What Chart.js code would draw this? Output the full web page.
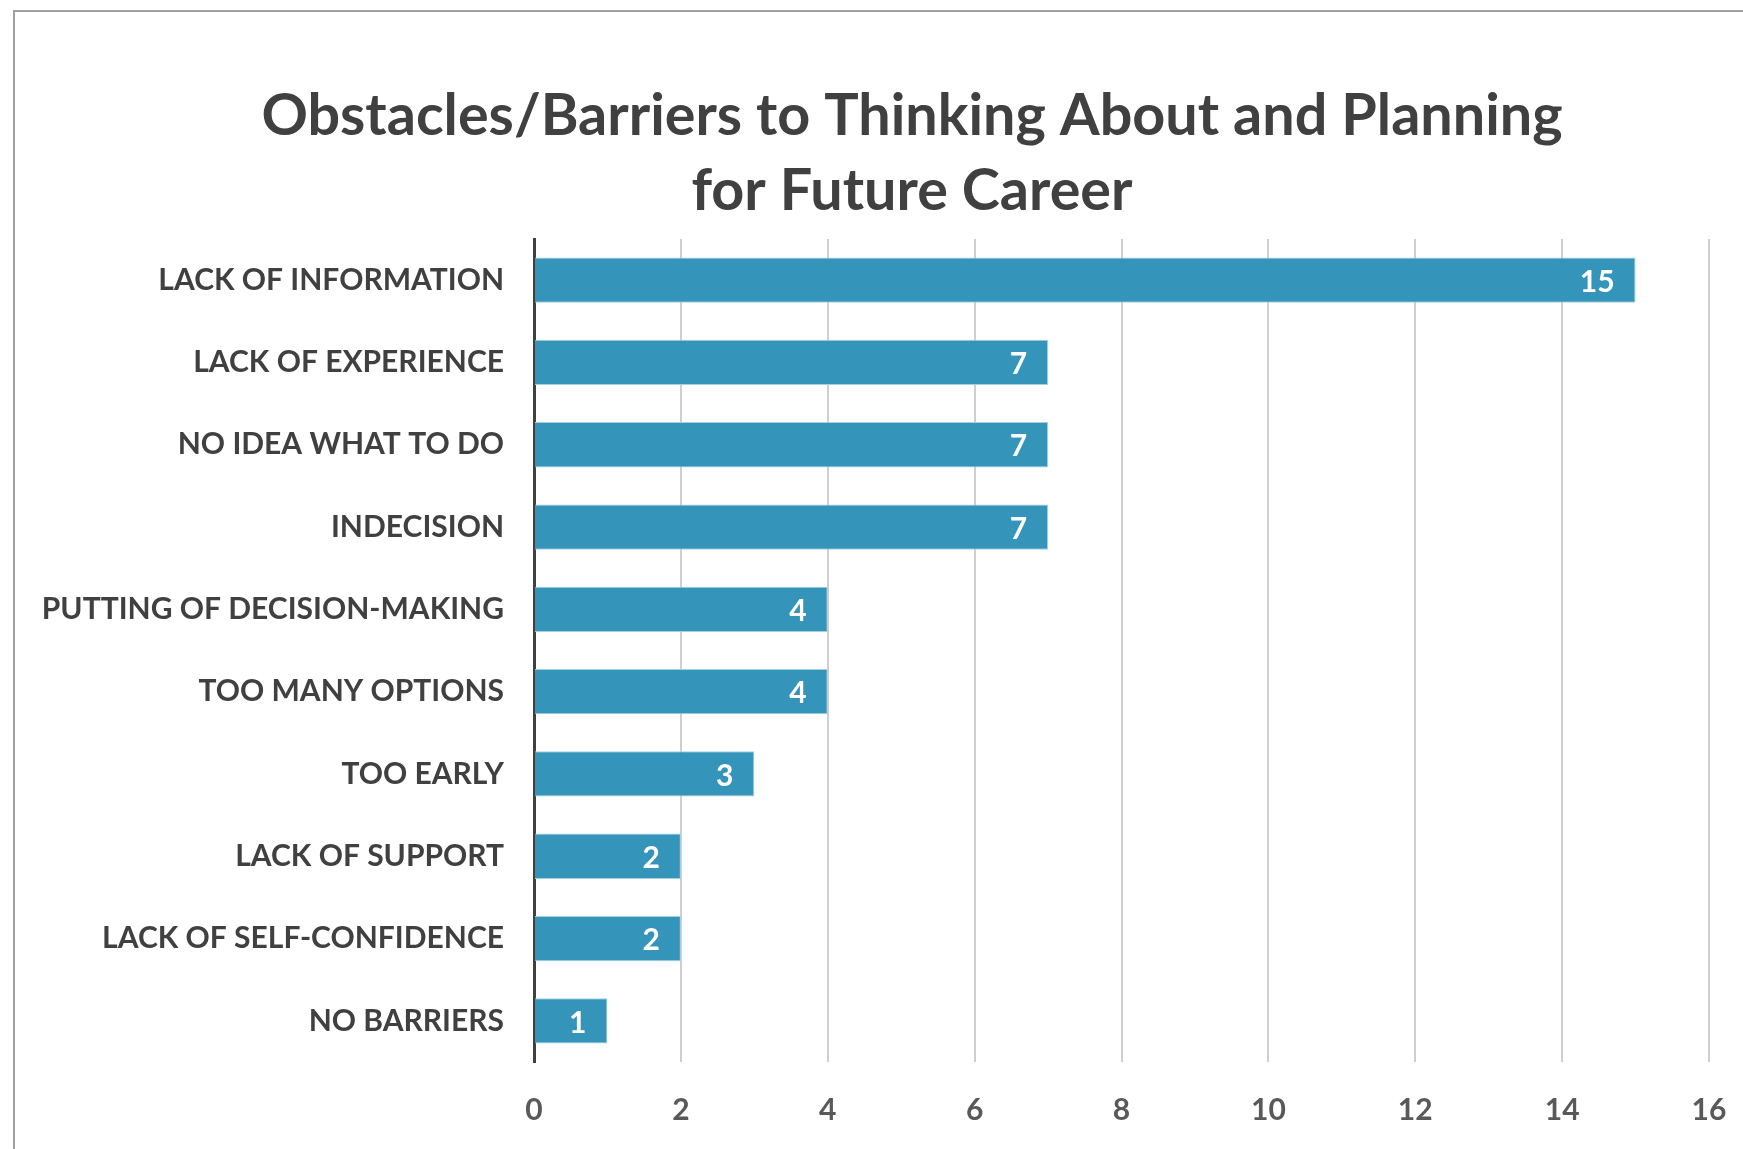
<!DOCTYPE html>
<html>
<head>
<meta charset="utf-8">
<script src="https://cdn.jsdelivr.net/npm/chart.js@4.4.1/dist/chart.umd.min.js"></script>
<style>
    body { margin: 0; background: #fff; overflow: hidden; }
    #wrap { position: relative; width: 1743px; height: 1149px; }
    #frame {
        position: absolute; left: 13px; top: 10px; width: 2000px; height: 2000px;
        border-left: 2px solid #a0a0a0; border-top: 2px solid #a0a0a0;
        pointer-events: none;
    }
</style>
</head>
<body>
<div id="wrap">
    <canvas id="myChart" width="1743" height="1149"></canvas>
    <div id="frame"></div>
</div>
<script>
var titleLines = [
    'Obstacles/Barriers to Thinking About and Planning',
    'for Future Career'
];

var labels = [
    'LACK OF INFORMATION',
    'LACK OF EXPERIENCE',
    'NO IDEA WHAT TO DO',
    'INDECISION',
    'PUTTING OF DECISION-MAKING',
    'TOO MANY OPTIONS',
    'TOO EARLY',
    'LACK OF SUPPORT',
    'LACK OF SELF-CONFIDENCE',
    'NO BARRIERS'
];

var counts = [15, 7, 7, 7, 4, 4, 3, 2, 2, 1];

var xMin = 0;
var xMax = 16;
var xStep = 2;

var fontName = 'Lato, "Open Sans", sans-serif';

// title drawn by hand so it can sit off-centre like the original
var titlePlugin = {
    id: 'titleText',
    afterDraw: function (chart) {
        var c = chart.ctx;
        c.save();
        c.fillStyle = '#404040';
        c.font = 'bold 57.5px ' + fontName;
        c.textAlign = 'center';
        c.textBaseline = 'middle';
        for (var i = 0; i < titleLines.length; i++) {
            c.fillText(titleLines[i], 912, 116 + i * 75);
        }
        c.restore();
    }
};

// white value labels inside the bar end
var valuePlugin = {
    id: 'valueText',
    afterDatasetsDraw: function (chart) {
        var c = chart.ctx;
        var meta = chart.getDatasetMeta(0);
        c.save();
        c.fillStyle = '#ffffff';
        c.font = 'bold 30px ' + fontName;
        c.textAlign = 'right';
        c.textBaseline = 'middle';
        meta.data.forEach(function (bar, i) {
            c.fillText(String(counts[i]), bar.x - 21, bar.y + 2);
        });
        c.restore();
    }
};

var ctx = document.getElementById('myChart');

var data = {
    labels: labels,
    datasets: [{
        data: counts,
        backgroundColor: '#3494ba',
        borderColor: '#a3cfe0',
        borderWidth: 1,
        borderSkipped: 'start',
        barPercentage: 0.55,
        categoryPercentage: 1
    }]
};

var config = {
    type: 'bar',
    data: data,
    options: {
        indexAxis: 'y',
        responsive: false,
        animation: false,
        layout: { padding: { top: 239, right: 34, bottom: 0, left: 0 } },
        plugins: {
            legend: { display: false },
            title: { display: false },
            tooltip: { enabled: false }
        },
        scales: {
            x: {
                min: xMin,
                max: xMax,
                ticks: {
                    stepSize: xStep,
                    color: '#595959',
                    font: { family: fontName, size: 30, weight: 'bold' },
                    padding: 30
                },
                grid: { color: '#cfcfcf', lineWidth: 2, drawTicks: false },
                border: { display: false },
                afterFit: function (scale) {
                    scale.height = 87;
                    scale.paddingLeft = 0;
                    scale.paddingRight = 0;
                }
            },
            y: {
                ticks: {
                    color: '#404040',
                    font: { family: fontName, size: 30, weight: 'bold' },
                    padding: 22
                },
                grid: { display: false },
                border: { display: true, color: '#404040', width: 3 },
                afterFit: function (scale) { scale.width = 534; }
            }
        }
    },
    plugins: [titlePlugin, valuePlugin]
};

var myChart = new Chart(ctx, config);
</script>
</body>
</html>
